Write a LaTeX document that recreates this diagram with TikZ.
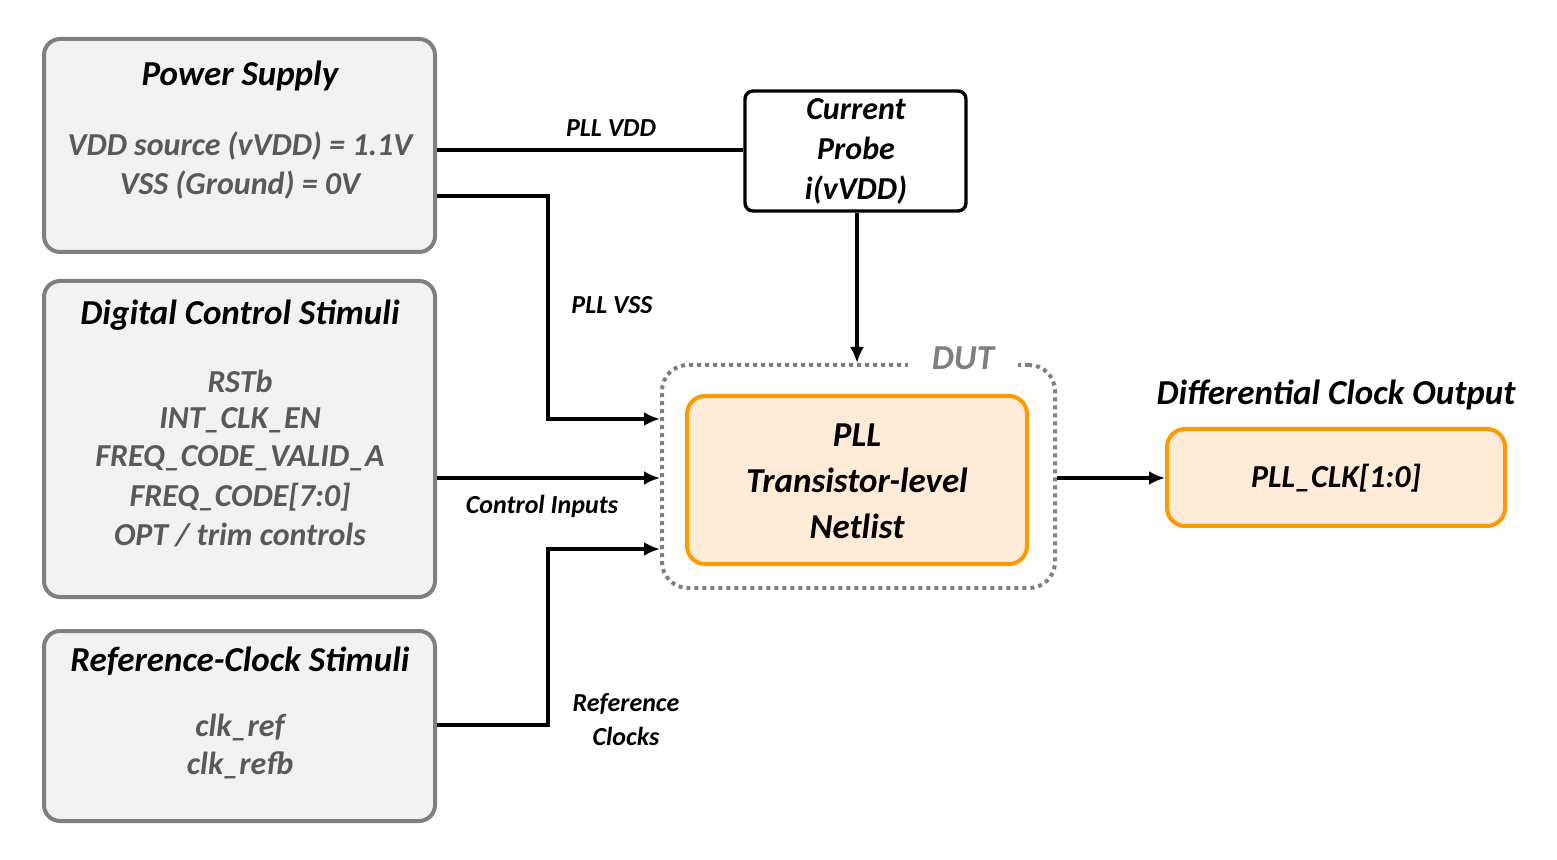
\documentclass[tikz,border=0pt]{standalone}
\usepackage{fontspec}
\setmainfont{Carlito}
\usetikzlibrary{arrows.meta,positioning,calc,fit}
\definecolor{BoxGray}{HTML}{7F7F7F}
\definecolor{BoxFill}{HTML}{F2F2F2}
\definecolor{ItemGray}{HTML}{595959}
\definecolor{DutOrange}{HTML}{FF9900}
\definecolor{DutFill}{HTML}{FFEBD7}

\tikzset{
  stimbox/.style={draw=BoxGray,fill=BoxFill,line width=2pt,rounded corners=8pt,inner sep=0pt},
  orangebox/.style={draw=DutOrange,fill=DutFill,line width=2pt,rounded corners=9pt,inner sep=0pt},
  probebox/.style={draw=black,fill=white,line width=1.7pt,rounded corners=4pt,inner sep=0pt},
  dutframe/.style={draw=BoxGray,line width=2pt,dash pattern=on 2pt off 2pt,rounded corners=13pt,inner sep=0pt},
  titletext/.style={font=\fontsize{17.5}{21}\selectfont\bfseries\itshape},
  itemtext/.style={font=\fontsize{16}{19}\selectfont\bfseries\itshape,text=ItemGray},
  wiretext/.style={font=\fontsize{13}{16}\selectfont\bfseries\itshape,align=center},
  wire/.style={line width=1.8pt},
  wirearrow/.style={line width=1.8pt,-{Latex[length=8pt,width=7pt]}}
}

\begin{document}
\begin{tikzpicture}[x=0.5pt,y=-0.5pt]
  \useasboundingbox (0,0) rectangle (1557,860);
  % stimulus boxes on the left
  \node[stimbox,fit={(44,39) (435,252)}] (power) {};
  \node[stimbox,fit={(44,281) (435,597)}] (ctrl) {};
  \node[stimbox,fit={(44,631) (435,821)}] (refclk) {};
  \node[titletext] (powertitle) at (240,76) {Power Supply};
  \node[itemtext] (vdd) at (240,146) {VDD source (vVDD) = 1.1V};
  \node[itemtext] (vss) at (240,185) {VSS (Ground) = 0V};
  \node[titletext] (ctrltitle) at (240,315) {Digital Control Stimuli};
  \foreach \y/\txt in {381/RSTb,420/INT\_CLK\_EN,458/FREQ\_CODE\_VALID\_A,497/FREQ\_CODE[7:0],535/{OPT / trim controls}}{
    \node[itemtext] at (240,\y) {\txt};
  }
  \node[titletext] (reftitle) at (240,661) {Reference-Clock Stimuli};
  \node[itemtext] (clkref) at (240,727) {clk\_ref};
  \node[itemtext] (clkrefb) at (240,765) {clk\_refb};

  % probe, DUT and output
  \node[probebox,fit={(745,91) (966,211)}] (probe) {};
  \node[itemtext,text=black,align=center] (probetext) at (856,151) {Current\\[1pt]Probe\\[1pt]i(vVDD)};
  \node[dutframe,fit={(662,365) (1055,588)}] (dut) {};
  \node[titletext,text=BoxGray,fill=white,inner xsep=12pt,inner ysep=4pt] (dutlabel) at (963,358) {DUT};
  \node[orangebox,fit={(687,396) (1027,564)}] (pll) {};
  \node[titletext,align=center] (plltext) at (857,481) {PLL\\[2pt]Transistor-level\\[2pt]Netlist};
  \node[orangebox,fit={(1167,429) (1505,526)}] (clkout) {};
  \node[itemtext,text=black] (clkouttext) at (1336,478) {PLL\_CLK[1:0]};
  \node[titletext] (outtitle) at (1336,395) {Differential Clock Output};

  % connectors
  \coordinate (vddout) at (power.east |- 0,150);
  \coordinate (vssout) at (power.east |- 0,196);
  \coordinate (ctrlout) at (ctrl.east |- 0,478);
  \coordinate (refout) at (refclk.east |- 0,725);
  \draw[wire] (vddout) -- (probe.west |- vddout);
  \node[wiretext] at (611,128) {PLL VDD};
  \draw[wirearrow] (probe.south -| 857,0) -- (dut.north -| 857,0);
  \draw[wirearrow] (vssout) -| (548,419) -- (dut.west |- 0,419);
  \node[wiretext] at (612,305) {PLL VSS};
  \draw[wirearrow] (ctrlout) -- (dut.west |- ctrlout);
  \node[wiretext] at (542,506) {Control Inputs};
  \draw[wirearrow] (refout) -| (548,549) -- (dut.west |- 0,549);
  \node[wiretext] at (626,720) {Reference\\[1pt]Clocks};
  \draw[wirearrow] (dut.east |- 0,478) -- (clkout.west |- 0,478);
\end{tikzpicture}
\end{document}
